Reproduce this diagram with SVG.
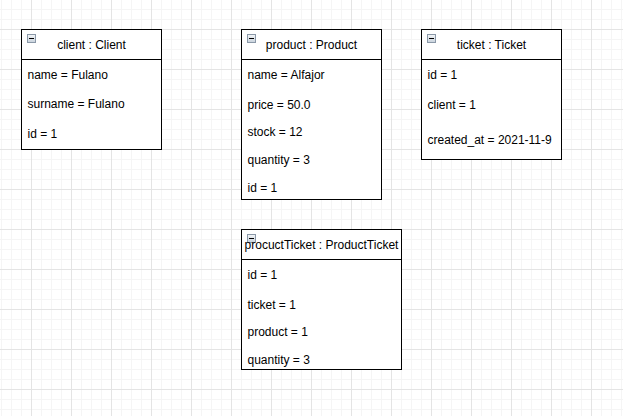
<svg xmlns="http://www.w3.org/2000/svg" width="623" height="416" viewBox="0 0 623 416">
<style>
.box{fill:#ffffff;stroke:#000000;stroke-width:1}
.sep{stroke:#000000;stroke-width:1;fill:none}
.t{font-family:"Liberation Sans",Arial,sans-serif;font-size:12px;fill:#000000}
.h{text-anchor:middle}
.ic{fill:url(#icg);stroke:#8a98a8;stroke-width:1}
.icm{stroke:#000000;stroke-width:1}
</style>
<defs>
<pattern id="grid" patternUnits="userSpaceOnUse" x="31" y="29" width="40" height="40">
<rect width="40" height="40" fill="#ffffff"/>
<path d="M10.5 0V40M20.5 0V40M30.5 0V40M0 10.5H40M0 20.5H40M0 30.5H40" stroke="#f5f5f5" stroke-width="1"/>
<path d="M0.5 0V40M0 0.5H40" stroke="#e4e4e4" stroke-width="1"/>
</pattern>
<linearGradient id="icg" x1="0" y1="0" x2="0" y2="1">
<stop offset="0" stop-color="#f4f6f8"/>
<stop offset="1" stop-color="#c8d2dc"/>
</linearGradient>
</defs>
<rect width="623" height="416" fill="url(#grid)"/>
<g id="connectors"></g>
<g id="client">
<rect class="box" x="21.5" y="29.5" width="140" height="120"/>
<path class="sep" d="M21.5 59.5H161.5"/>
<rect class="ic" x="27.5" y="34.5" width="8" height="8"/>
<path class="icm" d="M29 38.5H34"/>
<text class="t h" x="91.5" y="49">client : Client</text>
<text class="t" x="27.5" y="79">name = Fulano</text>
<text class="t" x="27.5" y="108">surname = Fulano</text>
<text class="t" x="27.5" y="138">id = 1</text>
</g>
<g id="product">
<rect class="box" x="241.5" y="29.5" width="140" height="170"/>
<path class="sep" d="M241.5 59.5H381.5"/>
<rect class="ic" x="247.5" y="34.5" width="8" height="8"/>
<path class="icm" d="M249 38.5H254"/>
<text class="t h" x="311.5" y="49">product : Product</text>
<text class="t" x="247.5" y="79">name = Alfajor</text>
<text class="t" x="247.5" y="109">price = 50.0</text>
<text class="t" x="247.5" y="136">stock = 12</text>
<text class="t" x="247.5" y="164">quantity = 3</text>
<text class="t" x="247.5" y="192">id = 1</text>
</g>
<g id="ticket">
<rect class="box" x="421.5" y="29.5" width="140" height="130"/>
<path class="sep" d="M421.5 59.5H561.5"/>
<rect class="ic" x="427.5" y="34.5" width="8" height="8"/>
<path class="icm" d="M429 38.5H434"/>
<text class="t h" x="491.5" y="49">ticket : Ticket</text>
<text class="t" x="427.5" y="79">id = 1</text>
<text class="t" x="427.5" y="109">client = 1</text>
<text class="t" x="427.5" y="144">created_at = 2021-11-9</text>
</g>
<g id="productTicket">
<rect class="box" x="241.5" y="229.5" width="160" height="140"/>
<path class="sep" d="M241.5 259.5H401.5"/>
<rect class="ic" x="247.5" y="234.5" width="8" height="8"/>
<path class="icm" d="M249 238.5H254"/>
<text class="t h" x="321.5" y="249">procuctTicket : ProductTicket</text>
<text class="t" x="247.5" y="279">id = 1</text>
<text class="t" x="247.5" y="309">ticket = 1</text>
<text class="t" x="247.5" y="336">product = 1</text>
<text class="t" x="247.5" y="364">quantity = 3</text>
</g>
</svg>
